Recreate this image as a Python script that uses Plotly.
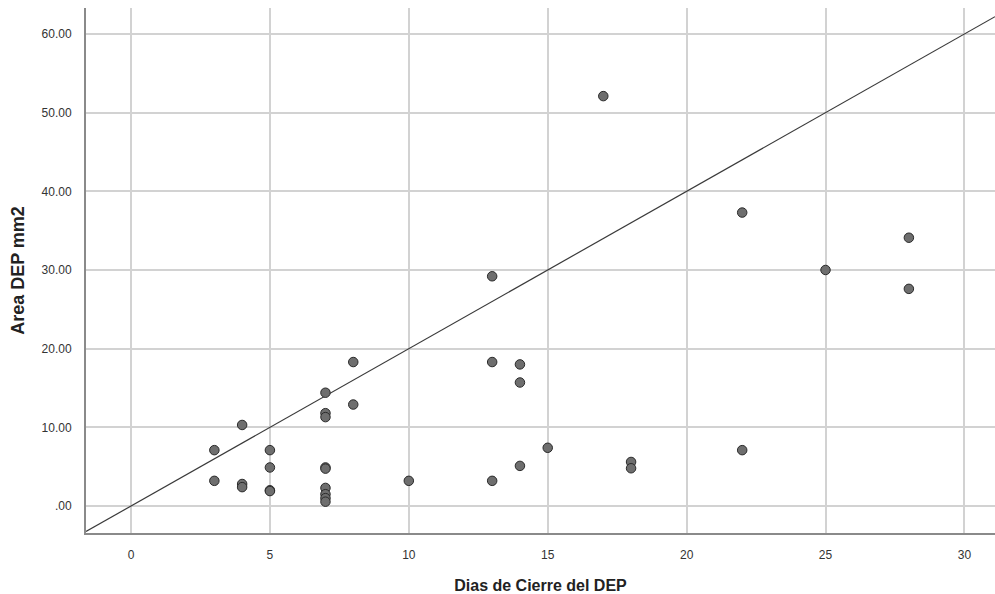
import plotly.graph_objects as go

# Data
dias = [3, 3,
        4, 4, 4,
        5, 5, 5, 5,
        7, 7, 7, 7, 7, 7, 7, 7, 7,
        8, 8,
        10,
        13, 13, 13,
        14, 14, 14,
        15,
        17,
        18, 18,
        22, 22,
        25,
        28, 28]
area = [7.1, 3.2,
        10.3, 2.8, 2.4,
        7.1, 4.9, 2.0, 1.9,
        14.4, 11.8, 11.3, 4.9, 4.75, 2.3, 1.5, 1.0, 0.55,
        18.3, 12.9,
        3.2,
        29.2, 18.3, 3.2,
        18.0, 15.7, 5.1,
        7.4,
        52.1,
        5.6, 4.8,
        37.3, 7.1,
        30.0,
        34.1, 27.6]

x_ticks = [0, 5, 10, 15, 20, 25, 30]
y_ticks = [0, 10, 20, 30, 40, 50, 60]
y_ticklabels = [".00", "10.00", "20.00", "30.00", "40.00", "50.00", "60.00"]

ref_slope = 2.0
x_range = [-1.62, 31.1]
y_range = [-3.43, 63.3]

fig = go.Figure()

fig.add_trace(go.Scatter(
    x=x_range,
    y=[ref_slope * v for v in x_range],
    mode="lines",
    line=dict(color="#3a3a3a", width=1.2),
    hoverinfo="skip",
    showlegend=False,
))

fig.add_trace(go.Scatter(
    x=dias, y=area, mode="markers",
    marker=dict(size=9.5, color="#6e6e6e", line=dict(color="#2a2a2a", width=1)),
    showlegend=False,
))

fig.update_layout(
    width=995, height=594,
    margin=dict(l=86, r=0, t=8, b=61),
    paper_bgcolor="white", plot_bgcolor="white",
    font=dict(family="Liberation Sans, Arial, sans-serif", color="#333333"),
)

fig.update_xaxes(
    range=x_range, tickvals=x_ticks, ticktext=[str(v) for v in x_ticks],
    showgrid=True, gridcolor="#d2d2d2", gridwidth=1.5,
    zeroline=False,
    showline=True, linecolor="#8a8a8a", linewidth=2,
    ticks="", ticklabelstandoff=10,
    tickfont=dict(size=12, color="#333333"),
    title=dict(text="Dias de Cierre del DEP",
               font=dict(size=16, color="#222222", weight="bold"), standoff=18),
)
fig.update_yaxes(
    range=y_range, tickvals=y_ticks, ticktext=y_ticklabels,
    showgrid=True, gridcolor="#d2d2d2", gridwidth=1.5,
    zeroline=False,
    showline=True, linecolor="#8a8a8a", linewidth=2,
    ticks="", ticklabelstandoff=10,
    tickfont=dict(size=12, color="#333333"),
    title=dict(text="Area DEP mm2",
               font=dict(size=18, color="#222222", weight="bold"), standoff=12),
)

fig.write_html("out.html")
